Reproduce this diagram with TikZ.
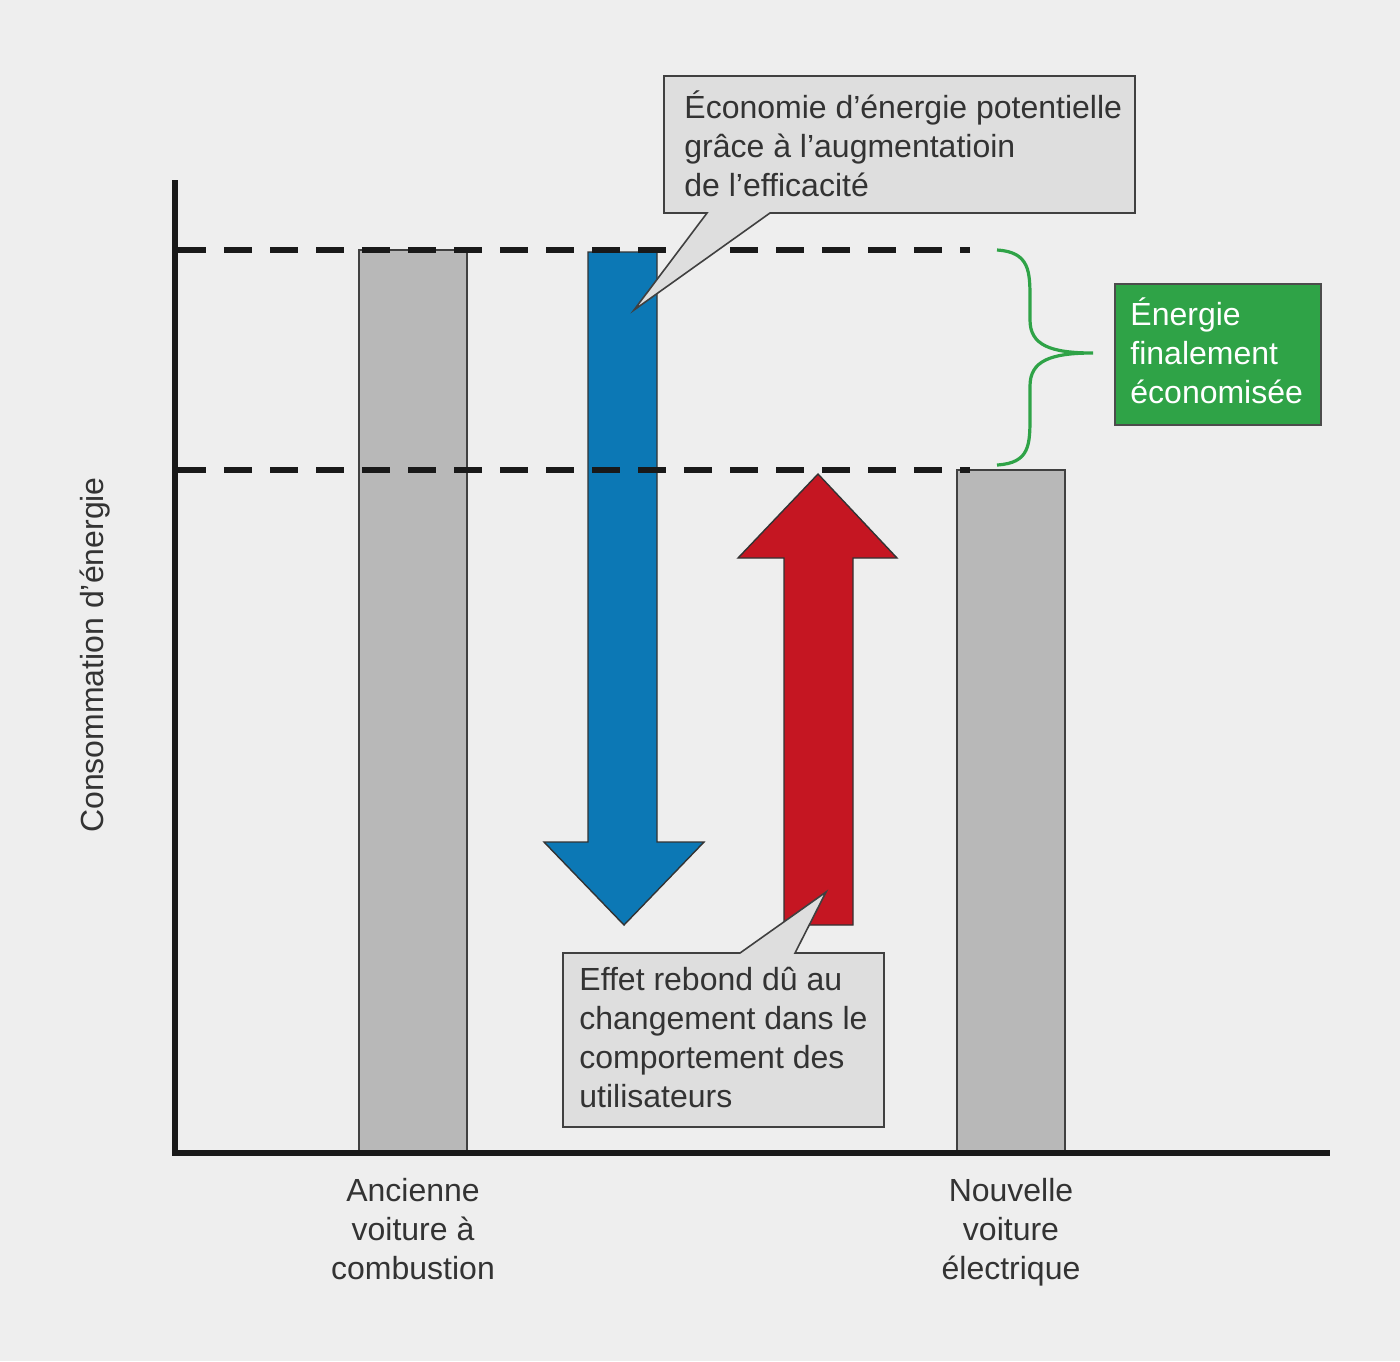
\documentclass[tikz,border=0pt]{standalone}
\usepackage{fontspec}
\setmainfont{Liberation Sans}
\begin{document}
\begin{tikzpicture}[x=0.5pt,y=-0.5pt,
  txt/.style={font=\fontsize{16}{19.5}\selectfont,inner sep=0pt,align=left,anchor=north west,text=black!80},
  bar/.style={fill=black!28,draw=black!75,line width=0.8pt},
  dashln/.style={line width=2.6pt,dash pattern=on 14pt off 9pt,black!90},
  callout/.style={fill=black!13,draw=black!75,line width=0.8pt}]
\definecolor{bg}{HTML}{EEEEEE}
\definecolor{blu}{HTML}{0C78B5}
\definecolor{rd}{HTML}{C51622}
\definecolor{grn}{HTML}{2FA347}
\fill[bg] (0,0) rectangle (1400,1361);
\useasboundingbox (0,0) rectangle (1400,1361);
% bars
\draw[bar] (359,250) rectangle (467,1153);
\draw[bar] (957,470) rectangle (1065,1153);
% blue arrow
\draw[fill=blu,draw=black!80,line width=0.7pt] (588,252) -- (657,252) -- (657,842) -- (704,842) -- (624,925) -- (544,842) -- (588,842) -- cycle;
% red arrow
\draw[fill=rd,draw=black!80,line width=0.7pt] (784,925) -- (853,925) -- (853,558) -- (897,558) -- (818,474) -- (738,558) -- (784,558) -- cycle;
% dashed
\draw[dashln] (178,250) -- (970,250);
\draw[dashln] (178,470) -- (970,470);
% axes
\draw[line width=3pt,black!90] (175,180) -- (175,1153) -- (1330,1153);
% callouts
\draw[callout] (664,76) -- (1135,76) -- (1135,213) -- (770,213) -- (634,310) -- (707,213) -- (664,213) -- cycle;
\node[txt] (t1) at (684,90) {Économie d'énergie potentielle\\grâce à l'augmentatioin\\de l'efficacité};
\draw[callout] (563,953) -- (740,953) -- (826,892) -- (795,953) -- (884,953) -- (884,1127) -- (563,1127) -- cycle;
\node[txt] (t2) at (579,967) {Effet rebond dû au\\changement dans le\\comportement des\\utilisateurs};
% green box
\node[fill=grn,draw=black!70,line width=0.8pt,minimum width=103pt,minimum height=70.5pt,anchor=north west] (g) at (1114,283) {};
\node[txt,text=white] (gt) at (1130,297) {Énergie\\finalement\\économisée};
% brace
\draw[grn,line width=1.6pt] (997,250) .. controls (1030,252) and (1030,272) .. (1030,300) -- (1030,320) .. controls (1030,345) and (1050,353) .. (1093,353) .. controls (1050,353) and (1030,361) .. (1030,386) -- (1030,415) .. controls (1030,445) and (1030,463) .. (997,465);
% labels
\node[font=\fontsize{16}{19.5}\selectfont,rotate=90,text=black!80,inner sep=0] (yl) at (95,655) {Consommation d'énergie};
\node[font=\fontsize{16}{19.5}\selectfont,align=center,text=black!80,inner sep=0,anchor=north] (x1) at (413,1178) {Ancienne\\voiture à\\combustion};
\node[font=\fontsize{16}{19.5}\selectfont,align=center,text=black!80,inner sep=0,anchor=north] (x2) at (1011,1178) {Nouvelle\\voiture\\électrique};
\end{tikzpicture}
\end{document}
